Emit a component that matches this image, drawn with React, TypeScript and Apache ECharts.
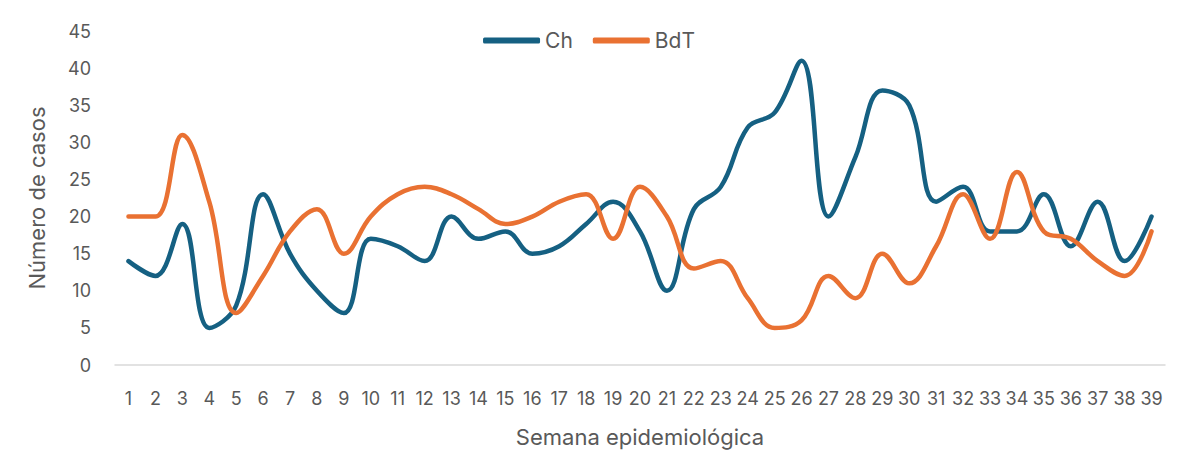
import React, { useEffect, useRef } from "react";
import * as echarts from "echarts";

const weeks = Array.from({ length: 39 }, (_, i) => String(i + 1));
const chValues = [14, 12, 19, 5, 8, 23, 15, 10, 7, 17, 16, 14, 20, 17, 18, 15, 16, 19, 22, 18, 10, 21, 24, 32, 34, 41, 20, 28, 37, 35, 22, 24, 18, 18, 23, 16, 22, 14, 20];
const bdtValues = [20, 20, 31, 22, 7, 12, 18, 21, 15, 20, 23, 24, 23, 21, 19, 20, 22, 23, 17, 24, 20, 13, 14, 9, 5, 6, 12, 9, 15, 11, 16, 23, 17, 26, 18, 17, 14, 12, 18];

const FONT = "Inter, Roboto, 'Noto Sans', sans-serif";
const GRAY = "#595959";

export default function App() {
  const ref = useRef<HTMLDivElement>(null);
  useEffect(() => {
    const chart = echarts.init(ref.current!, undefined, { renderer: "svg" });
    chart.setOption({
      animation: false,
      textStyle: { fontFamily: FONT },
      legend: {
        top: 25,
        left: "center",
        icon: "roundRect",
        itemWidth: 57,
        itemHeight: 6,
        itemGap: 20,
        textStyle: { color: GRAY, fontSize: 21, fontFamily: FONT },
        data: ["Ch", "BdT"],
      },
      grid: { left: 115, right: 13, top: 31, bottom: 89, containLabel: false },
      xAxis: {
        type: "category",
        data: weeks,
        boundaryGap: true,
        name: "Semana epidemiológica",
        nameLocation: "middle",
        nameGap: 61,
        nameTextStyle: { color: GRAY, fontSize: 22, fontFamily: FONT },
        axisLine: { lineStyle: { color: "#d9d9d9", width: 1.5 } },
        axisTick: { show: false },
        axisLabel: { color: GRAY, fontSize: 18, margin: 24, interval: 0, fontFamily: FONT },
      },
      yAxis: {
        type: "value",
        min: 0,
        max: 45,
        interval: 5,
        name: "Número de casos",
        nameLocation: "middle",
        nameGap: 67,
        nameTextStyle: { color: GRAY, fontSize: 22, fontFamily: FONT },
        axisLine: { show: false },
        axisTick: { show: false },
        splitLine: { show: false },
        axisLabel: { color: GRAY, fontSize: 18, margin: 24, fontFamily: FONT },
      },
      series: [
        {
          name: "Ch",
          type: "line",
          data: chValues,
          smooth: 0.4,
          symbol: "none",
          lineStyle: { color: "#156082", width: 4.5, cap: "round", join: "round" },
          itemStyle: { color: "#156082" },
        },
        {
          name: "BdT",
          type: "line",
          data: bdtValues,
          smooth: 0.4,
          symbol: "none",
          lineStyle: { color: "#E97132", width: 4.5, cap: "round", join: "round" },
          itemStyle: { color: "#E97132" },
        },
      ],
    });
    return () => chart.dispose();
  }, []);
  return <div ref={ref} style={{ width: 1178, height: 454, position: "absolute", left: 0, top: 0 }} />;
}
